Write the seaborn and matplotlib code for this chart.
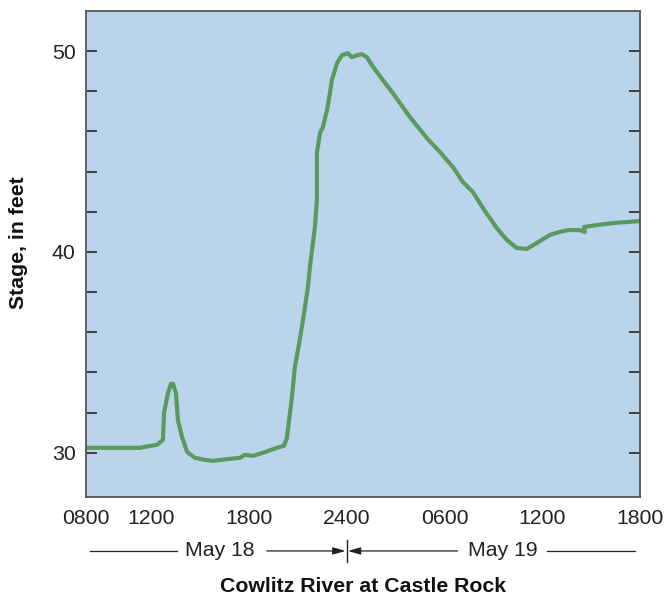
import matplotlib
matplotlib.use("Agg")
import matplotlib.pyplot as plt
import seaborn as sns
import pandas as pd

# Hours since 0800 May 18
hours = [0.00, 2.09, 3.31, 4.36, 4.72, 4.79, 5.03, 5.21, 5.34, 5.52, 5.64, 5.89, 6.20, 6.69,
         7.30, 7.79, 8.83, 9.45, 9.75, 10.25, 10.86, 11.72, 12.15, 12.33, 12.39, 12.52, 12.64,
         12.82, 13.01, 13.25, 13.44, 13.62, 13.74, 13.87, 14.05, 14.17, 14.17, 14.17, 14.36,
         14.54, 14.79, 14.97, 15.09, 15.40, 15.71, 16.07, 16.32, 16.63, 16.93, 17.24, 17.55,
         17.85, 18.83, 19.88, 20.92, 21.72, 22.52, 23.13, 23.74, 24.36, 25.21, 25.83, 26.44,
         27.06, 27.67, 28.47, 29.08, 29.57, 30.31, 30.61, 30.55, 31.35, 32.33, 33.99]
stage = [30.25, 30.25, 30.25, 30.40, 30.65, 31.99, 32.99, 33.43, 33.43, 32.99, 31.64, 30.80,
         30.05, 29.75, 29.65, 29.60, 29.70, 29.75, 29.90, 29.85, 30.00, 30.25, 30.35, 30.75,
         31.14, 31.99, 32.79, 34.28, 35.12, 36.27, 37.26, 38.26, 39.25, 40.10, 41.24, 42.59,
         43.23, 44.93, 45.92, 46.22, 47.06, 47.91, 48.56, 49.40, 49.80, 49.90, 49.70, 49.80,
         49.85, 49.70, 49.30, 48.96, 47.91, 46.72, 45.67, 44.98, 44.23, 43.48, 42.99, 42.19,
         41.19, 40.60, 40.20, 40.15, 40.45, 40.85, 41.00, 41.09, 41.09, 40.99, 41.24, 41.34,
         41.44, 41.54]

tick_hours = [0, 4, 10, 16, 22, 28, 34]
tick_labels = ["0800", "1200", "1800", "2400", "0600", "1200", "1800"]
ytick_major = [30, 40, 50]
day_labels = ["May 18", "May 19"]
title = "Cowlitz River at Castle Rock"
ylabel = "Stage, in feet"

df = pd.DataFrame({"h": hours, "stage": stage})

fig = plt.figure(figsize=(6.65, 5.96), dpi=100)
ax = fig.add_axes([86/665, 99/596, 554/665, 486/596])
ax.set_facecolor("#BAD4EC")

sns.lineplot(data=df, x="h", y="stage", sort=False, estimator=None, ax=ax,
             color="#5B9A5F", linewidth=3.0)
for ln in ax.lines:
    ln.set_solid_joinstyle("round")
    ln.set_solid_capstyle("round")

ax.set_xlim(0, 34)
ax.set_ylim(27.8, 52.0)

for s in ax.spines.values():
    s.set_color("#555555")
    s.set_linewidth(1.3)

FS = 15.3
ax.set_xticks(tick_hours)
ax.set_xticklabels(tick_labels, fontsize=FS, color="#222222", family="Liberation Sans")
ax.tick_params(axis="x", length=0, pad=9)

ax.set_yticks(ytick_major)
ax.set_yticklabels([str(v) for v in ytick_major], fontsize=FS, color="#222222",
                   family="Liberation Sans")
ax.set_yticks(list(range(30, 52, 2)), minor=True)
ax.tick_params(axis="y", which="both", direction="in", length=8, width=1.3,
               color="#333333", left=True, right=True, pad=7.5)
ax.set_xlabel("")
ax.set_ylabel("")
fig.text(18.5/665, 1 - 243/596, ylabel, rotation=90, ha="center", va="center",
         fontsize=15.3, fontweight="bold", family="Liberation Sans", color="#111111")

tr = ax.get_xaxis_transform()
yb = -0.111
kw = dict(transform=tr, clip_on=False)
lc = "#222222"
ax.plot([0.25, 5.6], [yb, yb], color=lc, lw=0.9, **kw)
ax.text(8.2, yb, day_labels[0], ha="center", va="center", fontsize=FS,
        family="Liberation Sans", color="#222222", transform=tr)
ax.annotate("", xy=(15.92, yb), xytext=(11.1, yb), xycoords=tr, textcoords=tr,
            arrowprops=dict(arrowstyle="-|>,head_length=0.75,head_width=0.22", color=lc, lw=0.9,
                            shrinkA=0, shrinkB=0))
ax.plot([16, 16], [yb - 0.022, yb + 0.022], color=lc, lw=1.0, **kw)
ax.annotate("", xy=(16.08, yb), xytext=(22.8, yb), xycoords=tr, textcoords=tr,
            arrowprops=dict(arrowstyle="-|>,head_length=0.75,head_width=0.22", color=lc, lw=0.9,
                            shrinkA=0, shrinkB=0))
ax.text(25.6, yb, day_labels[1], ha="center", va="center", fontsize=FS,
        family="Liberation Sans", color="#222222", transform=tr)
ax.plot([28.3, 33.7], [yb, yb], color=lc, lw=0.9, **kw)

ax.text(0.5, -0.185, title, ha="center", va="center", fontsize=15.3, fontweight="bold",
        family="Liberation Sans", color="#111111", transform=ax.transAxes)

fig.savefig("out.png", dpi=100)
